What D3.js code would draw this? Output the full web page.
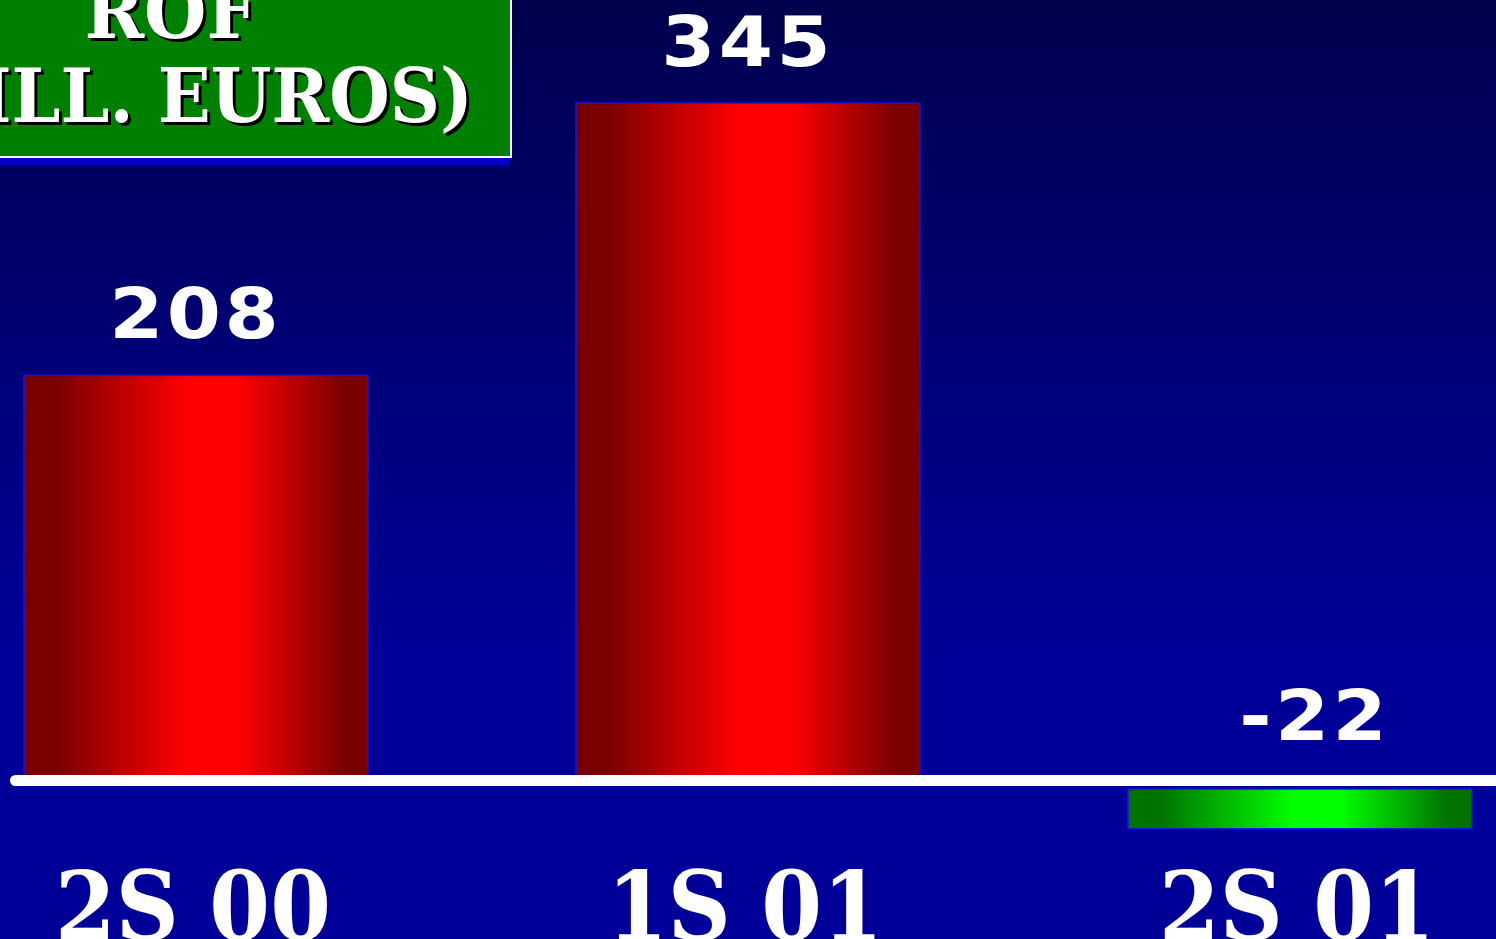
<!DOCTYPE html>
<html>
<head>
<meta charset="utf-8">
<script src="https://cdn.jsdelivr.net/npm/d3@7"></script>
<style>
  html, body { margin: 0; padding: 0; overflow: hidden; background: #000099; }
  svg { display: block; }
</style>
</head>
<body>
<svg id="chart" width="1496" height="939"></svg>
<script>
// ---- data ----
const categories = ["2S 00", "1S 01", "2S 01"];
const values = [208, 345, -22];
const valueLabels = ["208", "345", "-22"];
const titleLines = ["ROF", "(MILL. EUROS)"];

const W = 1496, H = 939;
const svg = d3.select("#chart");
const defs = svg.append("defs");

// background gradient
const bg = defs.append("linearGradient").attr("id", "bg")
  .attr("x1", 0).attr("y1", 0).attr("x2", 0).attr("y2", 1);
bg.append("stop").attr("offset", "0%").attr("stop-color", "#00004e");
bg.append("stop").attr("offset", "70%").attr("stop-color", "#000099");
bg.append("stop").attr("offset", "100%").attr("stop-color", "#000099");

function barGrad(id, dark, bright) {
  const g = defs.append("linearGradient").attr("id", id)
    .attr("x1", 0).attr("y1", 0).attr("x2", 1).attr("y2", 0);
  g.append("stop").attr("offset", "0%").attr("stop-color", dark);
  g.append("stop").attr("offset", "9%").attr("stop-color", dark);
  g.append("stop").attr("offset", "48%").attr("stop-color", bright);
  g.append("stop").attr("offset", "62%").attr("stop-color", bright);
  g.append("stop").attr("offset", "93%").attr("stop-color", dark);
  g.append("stop").attr("offset", "100%").attr("stop-color", dark);
}
barGrad("redGrad", "#7a0000", "#ff0000");
barGrad("greenGrad", "#007200", "#00ff00");

svg.append("rect").attr("width", W).attr("height", H).attr("fill", "url(#bg)");

// scales
const x = d3.scaleBand().domain(categories).range([-80, 1576])
  .paddingInner(0.3768).paddingOuter(0.1884);
const y = d3.scaleLinear().domain([0, 345]).range([789, 103]);
const lineY = 780.5;

// bars
svg.append("g").selectAll("rect").data(values).join("rect")
  .attr("x", (d, i) => x(categories[i]))
  .attr("width", x.bandwidth())
  .attr("y", d => d >= 0 ? y(d) : y(0))
  .attr("height", d => d >= 0 ? lineY - y(d) : y(d) - y(0) - 4)
  .attr("fill", d => d >= 0 ? "url(#redGrad)" : "url(#greenGrad)")
  .attr("stroke", "#1414e6")
  .attr("stroke-width", 1.5);

// baseline
svg.append("line")
  .attr("x1", 15.5).attr("x2", W + 20)
  .attr("y1", lineY).attr("y2", lineY)
  .attr("stroke", "#ffffff").attr("stroke-width", 11)
  .attr("stroke-linecap", "round");

// value labels
const ls = 3;
svg.append("g").selectAll("text").data(values).join("text")
  .attr("transform", (d, i) => {
    const cx = x(categories[i]) + x.bandwidth() / 2 + (d < 0 ? 13 : -2);
    const cy = d >= 0 ? y(d) - 37 : y(0) - 49;
    return `translate(${cx},${cy}) scale(1.13,1)`;
  })
  .attr("x", ls / 2)
  .attr("text-anchor", "middle")
  .attr("font-family", "'DejaVu Sans', sans-serif")
  .attr("font-weight", "bold")
  .attr("font-size", 69)
  .attr("letter-spacing", ls)
  .attr("fill", "#ffffff")
  .text((d, i) => valueLabels[i]);

// category labels
svg.append("g").selectAll("text").data(categories).join("text")
  .attr("x", d => x(d) + x.bandwidth() / 2 - 3)
  .attr("y", 940)
  .attr("text-anchor", "middle")
  .attr("font-family", "'DejaVu Serif', serif")
  .attr("font-weight", "bold")
  .attr("font-size", 96)
  .attr("textLength", 276)
  .attr("lengthAdjust", "spacingAndGlyphs")
  .attr("fill", "#ffffff")
  .text(d => d);

// title box
svg.append("rect").attr("x", 0).attr("y", 157).attr("width", 509).attr("height", 8)
  .attr("fill", "#0000c8");
svg.append("rect").attr("x", -10).attr("y", -10).attr("width", 521).attr("height", 167)
  .attr("fill", "#008000").attr("stroke", "#ffffff").attr("stroke-width", 2);

const titleG = svg.append("g")
  .attr("font-family", "'DejaVu Serif', serif")
  .attr("font-weight", "bold")
  .attr("font-size", 74);
const titlePos = [
  { x: 171, y: 38, anchor: "middle", sx: 0.97 },
  { x: 473, y: 122, anchor: "end", sx: 0.94 }
];
[[3, 3, "#000000"], [0, 0, "#ffffff"]].forEach(([dx, dy, col]) => {
  titleG.selectAll(null).data(titleLines).join("text")
    .attr("transform", (d, i) => `translate(${titlePos[i].x + dx},${titlePos[i].y + dy}) scale(${titlePos[i].sx},1)`)
    .attr("text-anchor", (d, i) => titlePos[i].anchor)
    .attr("fill", col)
    .text(d => d);
});
</script>
</body>
</html>
